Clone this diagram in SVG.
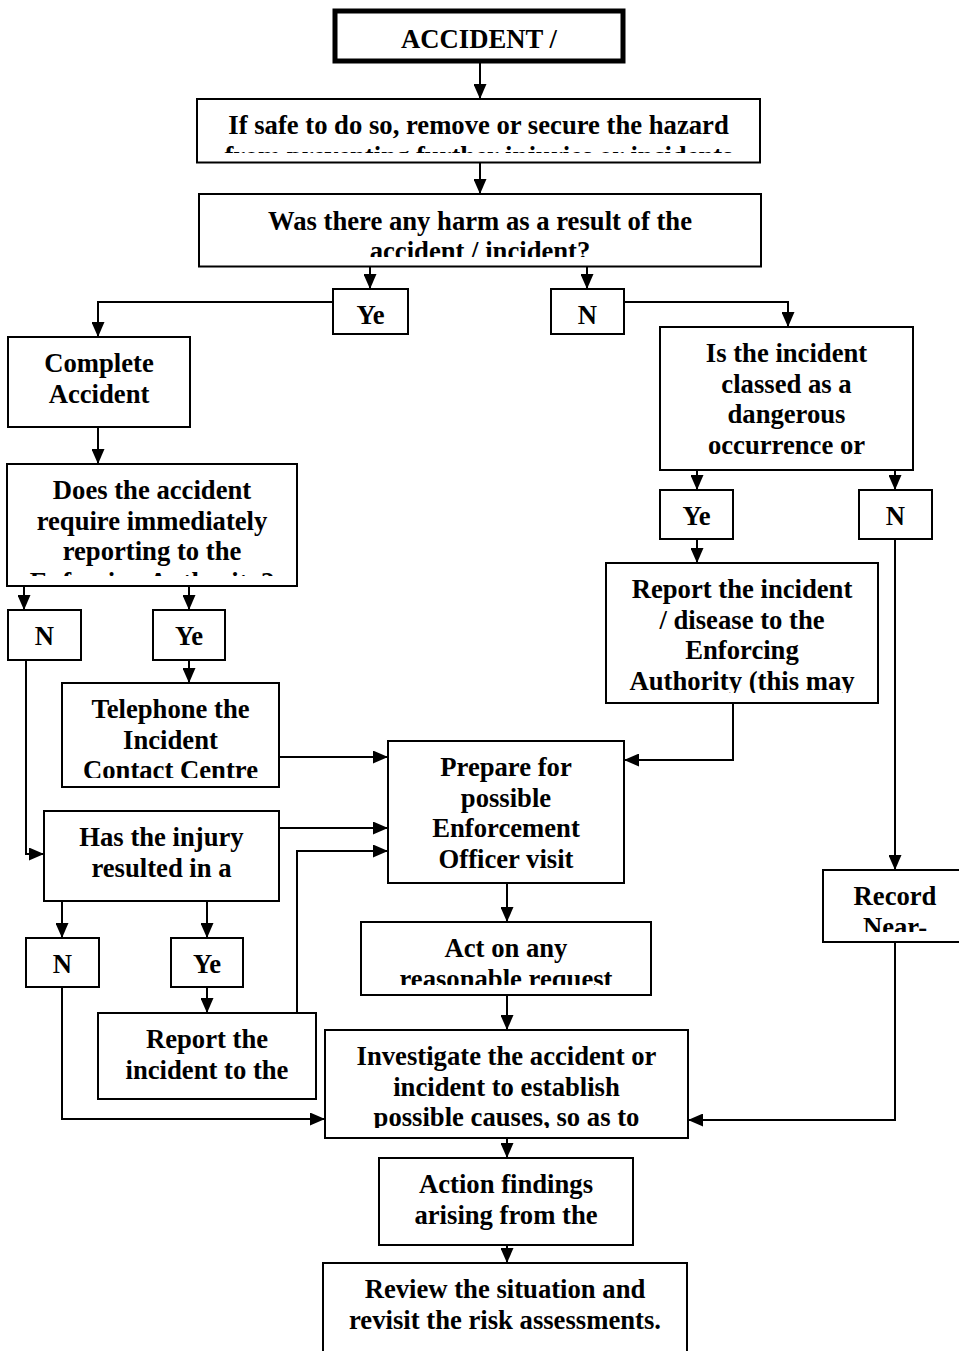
<svg xmlns="http://www.w3.org/2000/svg" width="959" height="1351" viewBox="0 0 959 1351">
<style>
.box{fill:#fff;stroke:#000;stroke-width:2}
.thick{stroke-width:5}
.t{font-family:"Liberation Serif","Times New Roman",serif;font-weight:bold;font-size:26.67px;text-anchor:middle;fill:#000}
.c{fill:none;stroke:#000;stroke-width:2;marker-end:url(#ah)}
</style>
<defs>
<marker id="ah" markerUnits="userSpaceOnUse" markerWidth="15" markerHeight="13" refX="15" refY="6.5" orient="auto"><path d="M0,0 L15,6.5 L0,13 Z" fill="#000"/></marker>
<clipPath id="cp-hazard" clipPathUnits="userSpaceOnUse"><rect x="197" y="99" width="563" height="54"/></clipPath>
<clipPath id="cp-harm" clipPathUnits="userSpaceOnUse"><rect x="199" y="194" width="562" height="63"/></clipPath>
<clipPath id="cp-does" clipPathUnits="userSpaceOnUse"><rect x="7" y="464" width="290" height="112"/></clipPath>
<clipPath id="cp-report1" clipPathUnits="userSpaceOnUse"><rect x="606" y="563" width="272" height="130"/></clipPath>
<clipPath id="cp-tel" clipPathUnits="userSpaceOnUse"><rect x="62" y="683" width="217" height="95"/></clipPath>
<clipPath id="cp-record" clipPathUnits="userSpaceOnUse"><rect x="823" y="870" width="145" height="62"/></clipPath>
<clipPath id="cp-act" clipPathUnits="userSpaceOnUse"><rect x="361" y="922" width="290" height="63"/></clipPath>
<clipPath id="cp-inv" clipPathUnits="userSpaceOnUse"><rect x="325" y="1030" width="363" height="98"/></clipPath>
</defs>

<g id="connectors">
<path class="c" d="M480,63 V99"/>
<path class="c" d="M480,163 V194"/>
<path class="c" d="M370,267 V289"/>
<path class="c" d="M587,267 V289"/>
<path class="c" d="M333,302 H98 V337"/>
<path class="c" d="M624,302 H788 V327"/>
<path class="c" d="M98,427 V464"/>
<path class="c" d="M24,586 V610"/>
<path class="c" d="M189,586 V610"/>
<path class="c" d="M189,660 V683"/>
<path class="c" d="M26,660 V854 H44"/>
<path class="c" d="M279,757 H388"/>
<path class="c" d="M279,828 H388"/>
<path class="c" d="M297,1013 V851 H388"/>
<path class="c" d="M62,901 V938"/>
<path class="c" d="M207,901 V938"/>
<path class="c" d="M207,987 V1013"/>
<path class="c" d="M62,987 V1119 H325"/>
<path class="c" d="M697,470 V490"/>
<path class="c" d="M895,470 V490"/>
<path class="c" d="M697,539 V563"/>
<path class="c" d="M733,703 V760 H624"/>
<path class="c" d="M895,539 V870"/>
<path class="c" d="M895,942 V1120 H688"/>
<path class="c" d="M507,883 V922"/>
<path class="c" d="M507,995 V1030"/>
<path class="c" d="M507,1138 V1158"/>
<path class="c" d="M507,1245 V1263"/>
</g>

<g id="n-accident"><rect class="box thick" x="335" y="11" width="288" height="50"/><text class="t" x="479" y="48">ACCIDENT /</text></g>
<g id="n-hazard"><rect class="box" x="197" y="99" width="563" height="63.5"/><g clip-path="url(#cp-hazard)"><text class="t" x="478.5" y="134">If safe to do so, remove or secure the hazard</text><text class="t" x="478.5" y="164.7">from preventing further injuries or incidents</text></g></g>
<g id="n-harm"><rect class="box" x="199" y="194" width="562" height="72.5"/><g clip-path="url(#cp-harm)"><text class="t" x="480" y="229.7">Was there any harm as a result of the</text><text class="t" x="480" y="260.3">accident / incident?</text></g></g>
<g id="n-yes1"><rect class="box" x="333" y="289" width="75" height="45"/><text class="t" x="370.5" y="324">Ye</text></g>
<g id="n-no1"><rect class="box" x="551" y="289" width="73" height="45"/><text class="t" x="587.5" y="324">N</text></g>
<g id="n-complete"><rect class="box" x="8" y="337" width="182" height="90"/><text class="t" x="99" y="372">Complete</text><text class="t" x="99" y="402.7">Accident</text></g>
<g id="n-dangerous"><rect class="box" x="660" y="327" width="253" height="143"/><text class="t" x="786.5" y="362">Is the incident</text><text class="t" x="786.5" y="392.7">classed as a</text><text class="t" x="786.5" y="423.3">dangerous</text><text class="t" x="786.5" y="454">occurrence or</text></g>
<g id="n-does"><rect class="box" x="7" y="464" width="290" height="122"/><g clip-path="url(#cp-does)"><text class="t" x="152" y="499">Does the accident</text><text class="t" x="152" y="529.7">require immediately</text><text class="t" x="152" y="560.3">reporting to the</text><text class="t" x="152" y="591">Enforcing Authority?</text></g></g>
<g id="n-no2"><rect class="box" x="8" y="610" width="73" height="50"/><text class="t" x="44.5" y="645">N</text></g>
<g id="n-yes2"><rect class="box" x="153" y="610" width="72" height="50"/><text class="t" x="189" y="645">Ye</text></g>
<g id="n-yes3"><rect class="box" x="660" y="490" width="73" height="49"/><text class="t" x="696.5" y="525">Ye</text></g>
<g id="n-no3"><rect class="box" x="859" y="490" width="73" height="49"/><text class="t" x="895.5" y="525">N</text></g>
<g id="n-report1"><rect class="box" x="606" y="563" width="272" height="140"/><g clip-path="url(#cp-report1)"><text class="t" x="742" y="598">Report the incident</text><text class="t" x="742" y="628.7">/ disease to the</text><text class="t" x="742" y="659.3">Enforcing</text><text class="t" x="742" y="690">Authority (this may</text></g></g>
<g id="n-telephone"><rect class="box" x="62" y="683" width="217" height="104"/><g clip-path="url(#cp-tel)"><text class="t" x="170.5" y="718">Telephone the</text><text class="t" x="170.5" y="748.7">Incident</text><text class="t" x="170.5" y="779.3">Contact Centre</text></g></g>
<g id="n-has"><rect class="box" x="44" y="811" width="235" height="90"/><text class="t" x="161.5" y="846">Has the injury</text><text class="t" x="161.5" y="876.7">resulted in a</text></g>
<g id="n-prepare"><rect class="box" x="388" y="741" width="236" height="142"/><text class="t" x="506" y="776">Prepare for</text><text class="t" x="506" y="806.7">possible</text><text class="t" x="506" y="837.3">Enforcement</text><text class="t" x="506" y="868">Officer visit</text></g>
<g id="n-record"><rect class="box" x="823" y="870" width="145" height="72"/><g clip-path="url(#cp-record)"><text class="t" x="895" y="905">Record</text><text class="t" x="895" y="935.7">Near-</text></g></g>
<g id="n-act"><rect class="box" x="361" y="922" width="290" height="73"/><g clip-path="url(#cp-act)"><text class="t" x="506" y="957">Act on any</text><text class="t" x="506" y="987.7">reasonable request</text></g></g>
<g id="n-no4"><rect class="box" x="26" y="938" width="73" height="49"/><text class="t" x="62.5" y="973">N</text></g>
<g id="n-yes4"><rect class="box" x="171" y="938" width="72" height="49"/><text class="t" x="207" y="973">Ye</text></g>
<g id="n-report2"><rect class="box" x="98" y="1013" width="218" height="86"/><text class="t" x="207" y="1048">Report the</text><text class="t" x="207" y="1078.7">incident to the</text></g>
<g id="n-investigate"><rect class="box" x="325" y="1030" width="363" height="108"/><g clip-path="url(#cp-inv)"><text class="t" x="506.5" y="1065">Investigate the accident or</text><text class="t" x="506.5" y="1095.7">incident to establish</text><text class="t" x="506.5" y="1126.3">possible causes, so as to</text></g></g>
<g id="n-action"><rect class="box" x="379" y="1158" width="254" height="87"/><text class="t" x="506" y="1193">Action findings</text><text class="t" x="506" y="1223.7">arising from the</text></g>
<g id="n-review"><rect class="box" x="323" y="1263" width="364" height="110"/><text class="t" x="505" y="1298">Review the situation and</text><text class="t" x="505" y="1328.7">revisit the risk assessments.</text></g>
</svg>
